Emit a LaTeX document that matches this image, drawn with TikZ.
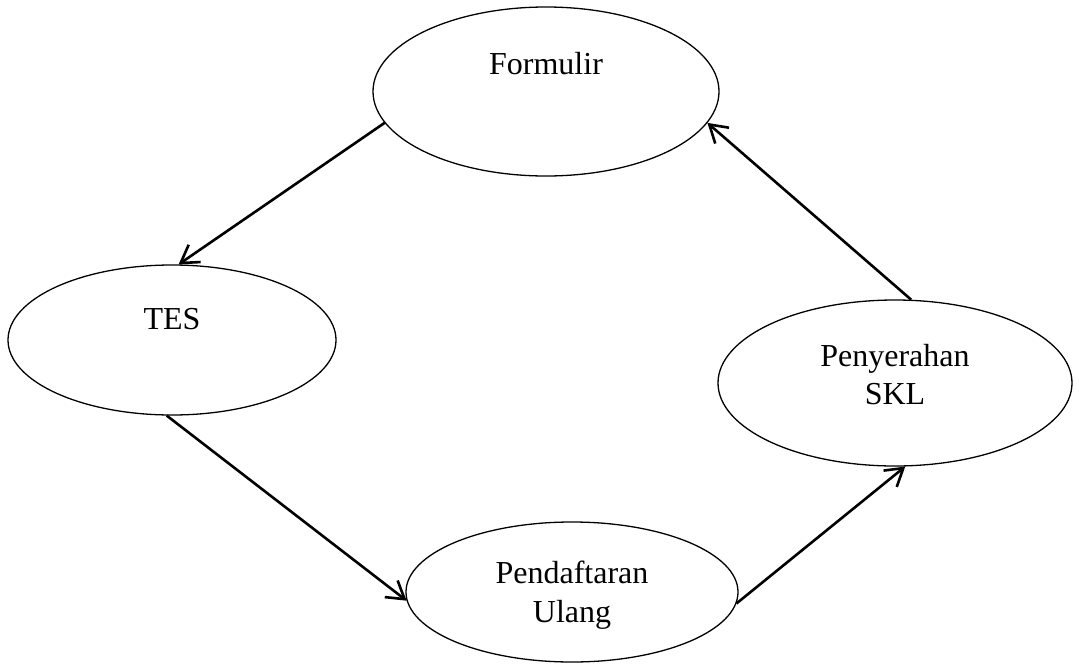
\documentclass[tikz,border=0pt]{standalone}
\usepackage{fontspec}
\setmainfont{Liberation Serif}
\usetikzlibrary{shapes.geometric,arrows.meta}
\tikzset{
  proc/.style={ellipse, draw, line width=1.3pt, inner sep=0pt},
  lbl/.style={anchor=base, inner sep=0pt, font=\fontsize{32}{38}\selectfont},
  flow/.style={line width=2.6pt, -{Straight Barb[length=17pt,width=21pt]}}
}
\begin{document}
\begin{tikzpicture}[x=1pt,y=-1pt]
\useasboundingbox (0,0) rectangle (1079,664);
\node[proc, minimum width=346pt, minimum height=169pt] (form) at (546,91.5) {};
\node[proc, minimum width=328pt, minimum height=150pt] (tes) at (172,340) {};
\node[proc, minimum width=354pt, minimum height=166pt] (skl) at (895,383) {};
\node[proc, minimum width=332pt, minimum height=140pt] (ulang) at (572,592) {};
\node[lbl] (tform) at (546,74) {Formulir};
\node[lbl] (ttes) at (172,329) {TES};
\node[lbl] (tskl1) at (895,366) {Penyerahan};
\node[lbl] (tskl2) at (895,404) {SKL};
\node[lbl] (tul1) at (572,583) {Pendaftaran};
\node[lbl] (tul2) at (572,622) {Ulang};
\draw[flow] (form.191) -- (tes.85);
\draw[flow] (tes.266) -- (ulang.183);
\draw[flow] (ulang.356) -- (skl.277);
\draw[flow] (skl.79) -- (form.349);
\end{tikzpicture}
\end{document}
